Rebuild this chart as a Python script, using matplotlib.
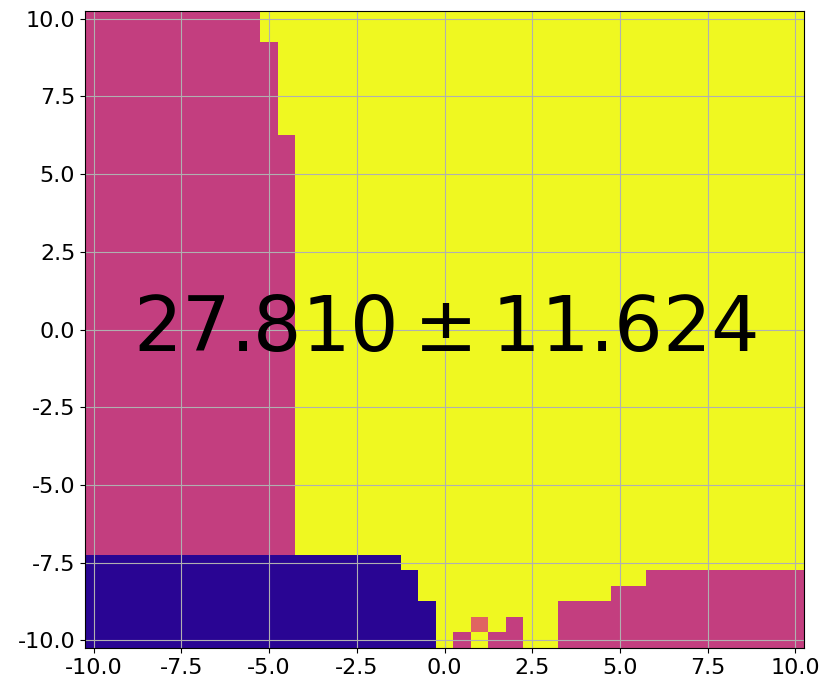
import numpy as np
import matplotlib
matplotlib.use('Agg')
import matplotlib.pyplot as plt

plt.rcParams['axes.unicode_minus'] = False

### Data
# cell centres run from -10 to 10 in steps of 0.5 (41 x 41 cells)
grid_min, grid_max, cell = -10.0, 10.0, 0.5
# colour value of each class on the plasma scale
class_vals = {'D': 0.05, 'M': 0.47, 'O': 0.60, 'Y': 1.00}
# run-length rows, top row (y=10) first: (class, number of cells)
row_runs = (
    [[('M', 10), ('Y', 31)]] * 2 +
    [[('M', 11), ('Y', 30)]] * 6 +
    [[('M', 12), ('Y', 29)]] * 27 +
    [[('D', 18), ('Y', 23)],
     [('D', 19), ('Y', 13), ('M', 9)],
     [('D', 19), ('Y', 11), ('M', 11)],
     [('D', 20), ('Y', 7), ('M', 14)],
     [('D', 20), ('Y', 2), ('O', 1), ('Y', 1), ('M', 1), ('Y', 2), ('M', 14)],
     [('D', 20), ('Y', 1), ('M', 1), ('Y', 1), ('M', 2), ('Y', 2), ('M', 14)]]
)
score_text = r'$27.810 \pm 11.624$'
ticks = [-10.0, -7.5, -5.0, -2.5, 0.0, 2.5, 5.0, 7.5, 10.0]

# Build value image from the runs
img = np.array([[class_vals[c] for c, n in row for _ in range(n)]
                for row in row_runs])

### Plot
fig = plt.figure(figsize=(8.3, 6.9), dpi=100)
ax = fig.add_axes([85/830, 1 - 648/690, (804-85)/830, (648-11)/690])
h = cell/2
ax.imshow(img, cmap='plasma', vmin=0, vmax=1, origin='upper',
          extent=[grid_min-h, grid_max+h, grid_min-h, grid_max+h],
          aspect='auto', interpolation='nearest')
ax.set_xticks(ticks)
ax.set_yticks(ticks)
ax.tick_params(labelsize=16)
ax.grid(True, color='#b0b0b0', linewidth=0.8)
ax.text(0, 0, score_text, fontsize=55, ha='center', va='center')

fig.savefig('out.png', dpi=100)
